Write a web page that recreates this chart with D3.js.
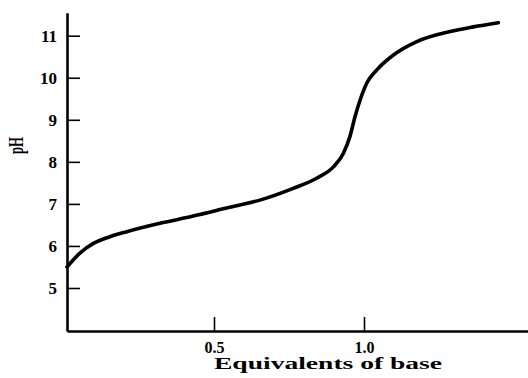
<!DOCTYPE html>
<html>
<head>
<meta charset="utf-8">
<script src="https://cdn.jsdelivr.net/npm/d3@7"></script>
<style>
  html, body { margin: 0; padding: 0; background: #fff; }
  svg { display: block; }
  text { font-family: "Liberation Serif", "DejaVu Serif", serif; font-weight: bold; fill: #000; }
</style>
</head>
<body>
<svg id="chart" width="528" height="378"></svg>
<script>
// Data
const equivalents = [0.01, 0.053, 0.098, 0.153, 0.209, 0.32, 0.431, 0.542, 0.653, 0.764, 0.842, 0.898, 0.931, 0.953, 0.970, 0.987, 1.009, 1.042, 1.098, 1.176, 1.287, 1.364, 1.448];
const phValues    = [5.5, 5.83, 6.06, 6.22, 6.34, 6.54, 6.71, 6.90, 7.09, 7.37, 7.61, 7.88, 8.20, 8.60, 9.07, 9.47, 9.87, 10.18, 10.54, 10.86, 11.10, 11.21, 11.31];
const xTicks = [0.5, 1.0];
const xTickLabels = ["0.5", "1.0"];
const yTicks = [5, 6, 7, 8, 9, 10, 11];
const xTitle = "Equivalents of base";
const yTitle = "pH";

const svg = d3.select("#chart");
const x = d3.scaleLinear().domain([0, 1]).range([64, 364]);
const y = d3.scaleLinear().domain([5, 11]).range([288, 35.7]);

const x0 = x.invert(67), x1 = x.invert(528);
const y0 = y.invert(331), y1 = y.invert(12.7);
const xs = x.copy().domain([x0, x1]).range([67, 528]);
const ys = y.copy().domain([y0, y1]).range([331, 12.7]);

// Y axis
const yAxis = d3.axisLeft(ys).tickValues(yTicks).tickFormat(d3.format("d"))
  .tickSizeInner(-13).tickSizeOuter(0).tickPadding(10);
const gy = svg.append("g").attr("transform", "translate(67,0)").call(yAxis);
gy.attr("font-size", null).attr("font-family", null);
gy.select(".domain").attr("stroke", "#000").attr("stroke-width", 2.6);
gy.selectAll(".tick line").attr("stroke", "#000").attr("stroke-width", 1.6);
gy.selectAll(".tick text").style("font-size", "17px").attr("dy", "0.34em");

// X axis
const xAxis = d3.axisBottom(xs).tickValues(xTicks).tickFormat((d, i) => xTickLabels[i])
  .tickSizeInner(-14).tickSizeOuter(0).tickPadding(11);
const gx = svg.append("g").attr("transform", "translate(0,331)").call(xAxis);
gx.attr("font-size", null).attr("font-family", null);
gx.select(".domain").attr("stroke", "#000").attr("stroke-width", 2.6);
gx.selectAll(".tick text").style("font-size", "16px");
gx.selectAll(".tick line").attr("stroke", "#000").attr("stroke-width", 1.6);

// Curve
const line = d3.line()
  .x((d, i) => xs(equivalents[i]))
  .y(d => ys(d))
  .curve(d3.curveMonotoneX);
svg.append("path")
  .attr("d", line(phValues))
  .attr("fill", "none")
  .attr("stroke", "#000")
  .attr("stroke-width", 3.6)
  .attr("stroke-linecap", "round");

// Titles
svg.append("text")
  .attr("x", 214).attr("y", 369)
  .style("font-size", "17px")
  .attr("textLength", 228).attr("lengthAdjust", "spacingAndGlyphs")
  .text(xTitle);

svg.append("text")
  .attr("transform", "translate(23,154) rotate(-90)")
  .style("font-size", "20px")
  .attr("textLength", 17).attr("lengthAdjust", "spacingAndGlyphs")
  .text(yTitle);
</script>
</body>
</html>
